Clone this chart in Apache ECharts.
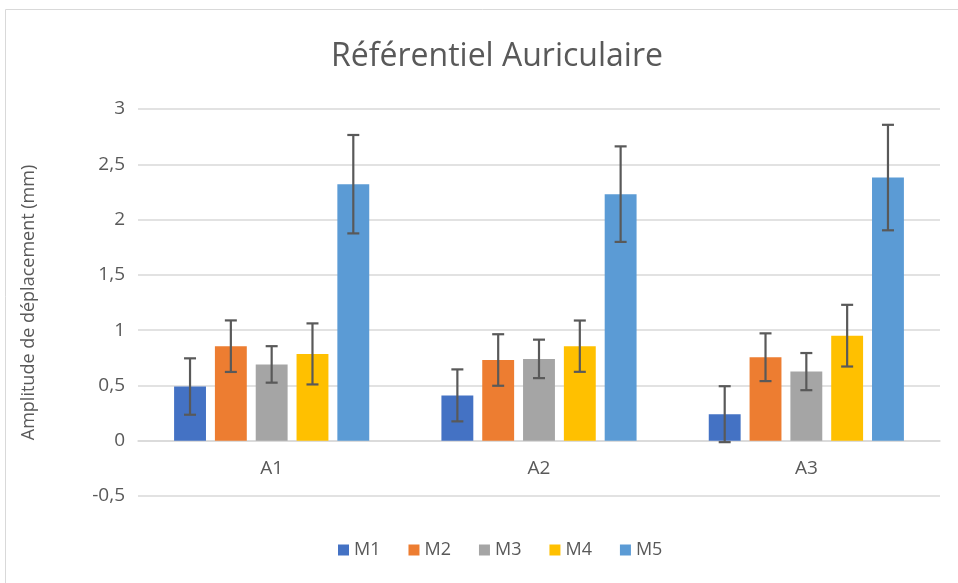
<!DOCTYPE html>
<html><head><meta charset="utf-8">
<script src="https://cdn.jsdelivr.net/npm/echarts@6/dist/echarts.min.js"></script>
<style>html,body{margin:0;padding:0;background:#fff}#c{width:958px;height:583px}</style>
</head><body><div id="c"></div>
<script>
const categories = ['A1', 'A2', 'A3'];
const seriesNames = ['M1', 'M2', 'M3', 'M4', 'M5'];
const m1 = [0.49, 0.41, 0.24];
const m2 = [0.855, 0.73, 0.755];
const m3 = [0.69, 0.74, 0.625];
const m4 = [0.785, 0.855, 0.95];
const m5 = [2.32, 2.23, 2.38];
const m1Err = [0.255, 0.235, 0.253];
const m2Err = [0.233, 0.233, 0.216];
const m3Err = [0.165, 0.174, 0.168];
const m4Err = [0.276, 0.232, 0.279];
const m5Err = [0.445, 0.432, 0.477];
const yTicks = [-0.5, 0, 0.5, 1, 1.5, 2, 2.5, 3];

const values = [m1, m2, m3, m4, m5];
const errs = [m1Err, m2Err, m3Err, m4Err, m5Err];
const colors = ['#4472C4', '#ED7D31', '#A5A5A5', '#FFC000', '#5B9BD5'];
const CAT_GAP = 0.27, BAR_GAP = 0.28;
const FONT = '"Open Sans", "Noto Sans", sans-serif';

const series = [];
values.forEach((v, i) => {
  series.push({
    name: seriesNames[i], type: 'bar', data: v,
    barCategoryGap: (CAT_GAP * 100) + '%', barGap: (BAR_GAP * 100) + '%',
    itemStyle: { color: colors[i] }
  });
});
values.forEach((v, i) => {
  series.push({
    name: 'err' + i, type: 'custom', z: 5,
    data: v.map((val, k) => [k, val, errs[i][k]]),
    encode: { x: 0, y: 1 },
    renderItem: function (params, api) {
      const k = api.value(0), val = api.value(1), e = api.value(2);
      const W = api.size([1, 0])[0];
      const usable = W * (1 - CAT_GAP);
      const bw = usable / (5 + 4 * BAR_GAP);
      const step = bw * (1 + BAR_GAP);
      const center = api.coord([k, val]);
      const x = center[0] + (i - 2) * step;
      const top = api.coord([k, val + e])[1];
      const bot = api.coord([k, val - e])[1];
      const cap = 6;
      const style = { stroke: '#595959', lineWidth: 2.2 };
      return { type: 'group', children: [
        { type: 'line', shape: { x1: x, y1: top, x2: x, y2: bot }, style: style },
        { type: 'line', shape: { x1: x - cap, y1: top, x2: x + cap, y2: top }, style: style },
        { type: 'line', shape: { x1: x - cap, y1: bot, x2: x + cap, y2: bot }, style: style }
      ]};
    }
  });
});

const chart = echarts.init(document.getElementById('c'));
chart.setOption({
  animation: false,
  textStyle: { fontFamily: FONT },
  graphic: [{ type: 'rect', shape: { x: 5.5, y: 9.5, width: 970, height: 590 },
    style: { fill: 'none', stroke: '#d9d9d9', lineWidth: 1 }, silent: true }],
  title: { text: 'Référentiel Auriculaire', left: 492, top: 36, textAlign: 'center',
    textStyle: { fontFamily: FONT, fontSize: 32, fontWeight: 'normal', color: '#595959' } },
  legend: { data: seriesNames, top: 536, left: 333, itemWidth: 11, itemHeight: 11, itemGap: 28,
    icon: 'rect', textStyle: { fontFamily: FONT, fontSize: 18, color: '#595959' } },
  grid: { left: 138, right: 18, top: 109, bottom: 87, containLabel: false },
  xAxis: { type: 'category', data: categories, offset: -55,
    axisLine: { onZero: false, lineStyle: { color: '#d9d9d9', width: 1.5 } },
    axisTick: { show: false },
    axisLabel: { fontFamily: FONT, fontSize: 19, color: '#595959', margin: 18 } },
  yAxis: { type: 'value', min: yTicks[0], max: yTicks[yTicks.length - 1], interval: 0.5,
    name: 'Amplitude de déplacement (mm)', nameLocation: 'middle', nameGap: 100, nameRotate: 90,
    nameTextStyle: { fontFamily: FONT, fontSize: 18, color: '#595959' },
    axisLine: { show: false }, axisTick: { show: false },
    splitLine: { lineStyle: { color: '#d9d9d9', width: 1.5 } },
    axisLabel: { fontFamily: FONT, fontSize: 19, color: '#595959', margin: 13,
      formatter: v => String(v).replace('.', ',') } },
  series: series
});
</script></body></html>
